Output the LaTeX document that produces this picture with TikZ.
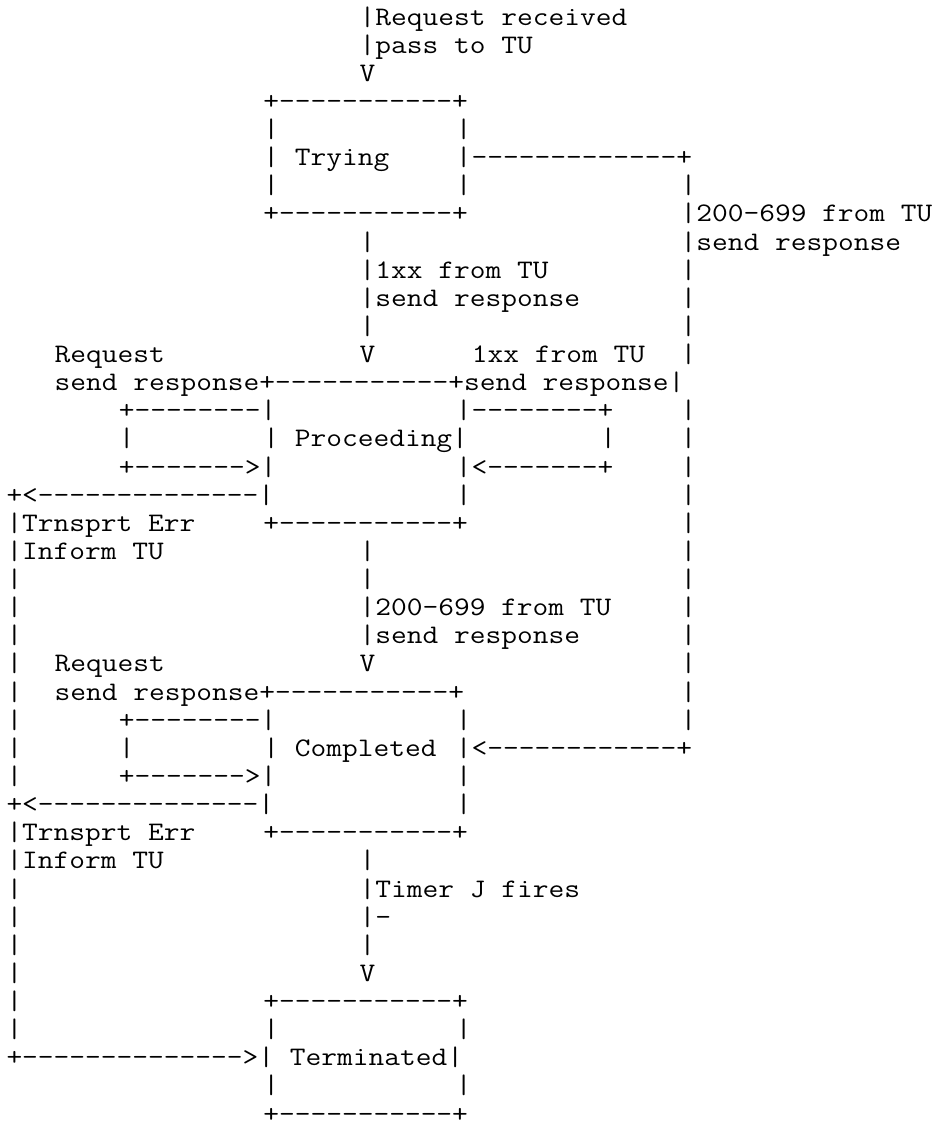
\documentclass[tikz,border=0pt]{standalone}
\usepackage{graphicx}
\newcount\dashct
\newcommand\dashes[1]{\dashct=0\relax\loop\ifnum\dashct<#1\relax-\kern0pt\advance\dashct by 1\relax\repeat}
\tikzset{
  txt/.style={anchor=base west, inner sep=0pt, outer sep=0pt,
    font=\ttfamily\fontsize{26.75}{28}\selectfont, text=black}
}
\newcommand\T[3]{\node[txt] (r#1c#2) at ({6.5+#2*16.05},{25+(#1-1)*28.13}) {\scalebox{1.1429}[1]{#3}};}
\begin{document}
\begin{tikzpicture}[x=1pt,y=-1pt]
\useasboundingbox (0,0) rectangle (942,1125);
\fill[white] (0,0) rectangle (942,1125);
% rows 1-3
\T{1}{22}{|Request received}
\T{2}{22}{|pass to TU}
\T{3}{22}{V}
% Trying
\T{4}{16}{+\dashes{11}+}
\T{5}{16}{|}\T{5}{28}{|}
\T{6}{16}{| Trying}\T{6}{28}{|\dashes{13}+}
\T{7}{16}{|}\T{7}{28}{|}\T{7}{42}{|}
\T{8}{16}{+\dashes{11}+}\T{8}{42}{|200-699 from TU}
\T{9}{22}{|}\T{9}{42}{|send response}
\T{10}{22}{|1xx from TU}\T{10}{42}{|}
\T{11}{22}{|send response}\T{11}{42}{|}
\T{12}{22}{|}\T{12}{42}{|}
% Proceeding
\T{13}{3}{Request}\T{13}{22}{V}\T{13}{29}{1xx from TU}\T{13}{42}{|}
\T{14}{3}{send response+\dashes{11}+send response|}
\T{15}{7}{+\dashes{8}|}\T{15}{28}{|\dashes{8}+}\T{15}{42}{|}
\T{16}{7}{|}\T{16}{16}{| Proceeding|}\T{16}{37}{|}\T{16}{42}{|}
\T{17}{7}{+\dashes{7}>|}\T{17}{28}{|<\dashes{7}+}\T{17}{42}{|}
\T{18}{0}{+<\dashes{14}|}\T{18}{28}{|}\T{18}{42}{|}
\T{19}{0}{|Trnsprt Err}\T{19}{16}{+\dashes{11}+}\T{19}{42}{|}
\T{20}{0}{|Inform TU}\T{20}{22}{|}\T{20}{42}{|}
\T{21}{0}{|}\T{21}{22}{|}\T{21}{42}{|}
\T{22}{0}{|}\T{22}{22}{|200-699 from TU}\T{22}{42}{|}
\T{23}{0}{|}\T{23}{22}{|send response}\T{23}{42}{|}
% Completed
\T{24}{0}{|}\T{24}{3}{Request}\T{24}{22}{V}\T{24}{42}{|}
\T{25}{0}{|}\T{25}{3}{send response+\dashes{11}+}\T{25}{42}{|}
\T{26}{0}{|}\T{26}{7}{+\dashes{8}|}\T{26}{28}{|}\T{26}{42}{|}
\T{27}{0}{|}\T{27}{7}{|}\T{27}{16}{| Completed}\T{27}{28}{|<\dashes{12}+}
\T{28}{0}{|}\T{28}{7}{+\dashes{7}>|}\T{28}{28}{|}
\T{29}{0}{+<\dashes{14}|}\T{29}{28}{|}
\T{30}{0}{|Trnsprt Err}\T{30}{16}{+\dashes{11}+}
\T{31}{0}{|Inform TU}\T{31}{22}{|}
\T{32}{0}{|}\T{32}{22}{|Timer J fires}
\T{33}{0}{|}\T{33}{22}{|-}
\T{34}{0}{|}\T{34}{22}{|}
\T{35}{0}{|}\T{35}{22}{V}
% Terminated
\T{36}{0}{|}\T{36}{16}{+\dashes{11}+}
\T{37}{0}{|}\T{37}{16}{|}\T{37}{28}{|}
\T{38}{0}{+\dashes{14}>| Terminated|}
\T{39}{16}{|}\T{39}{28}{|}
\T{40}{16}{+\dashes{11}+}
\end{tikzpicture}
\end{document}
